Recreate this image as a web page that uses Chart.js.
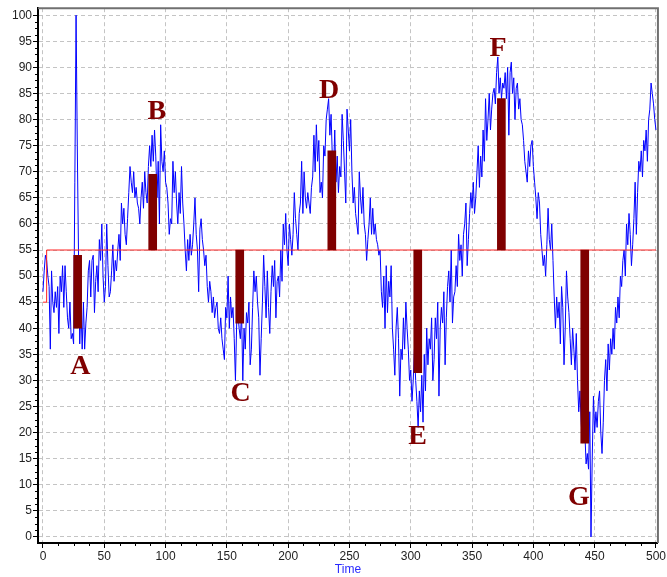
<!DOCTYPE html>
<html>
<head>
<meta charset="utf-8">
<script src="https://cdn.jsdelivr.net/npm/chart.js@4.4.1/dist/chart.umd.min.js"></script>
<style>
  html, body { margin: 0; padding: 0; background: #fff; }
</style>
</head>
<body>
<canvas id="myChart" width="667" height="577"></canvas>
<script>
// blue series, one value per time step (t = 0..500)
const signal = [
  47, 51, 54, 53, 50, 48, 36, 51, 45, 43,
  47, 44, 48, 39, 50, 47, 52, 44, 52, 47,
  42, 40, 45, 38, 39, 37, 68, 100, 75, 54,
  37, 44, 36, 45, 36, 41, 44, 51, 53, 46,
  53, 54, 43, 49, 52, 47, 57, 53, 60, 50,
  45, 48, 60, 52, 46, 47, 51, 56, 49, 53,
  51, 55, 58, 53, 64, 60, 63, 58, 56, 61,
  66, 71, 68, 66, 70, 65, 67, 64, 63, 60,
  65, 68, 63, 70, 66, 64, 71, 75, 71, 77,
  72, 78, 73, 65, 72, 60, 79, 72, 70, 74,
  68, 67, 64, 58, 61, 60, 72, 66, 70, 64,
  60, 66, 62, 71, 64, 60, 55, 51, 57, 53,
  58, 54, 56, 60, 65, 58, 55, 47, 59, 61,
  57, 55, 52, 54, 48, 45, 49, 47, 43, 46,
  42, 44, 45, 40, 39, 42, 38, 36, 34, 44,
  42, 50, 40, 46, 42, 44, 38, 30, 41, 43,
  40, 38, 43, 30, 40, 36, 43, 41, 45, 33,
  36, 44, 51, 47, 50, 45, 42, 31, 38, 45,
  54, 48, 42, 51, 44, 39, 47, 52, 48, 53,
  42, 49, 50, 46, 55, 49, 60, 56, 62, 55,
  52, 60, 57, 54, 58, 66, 61, 58, 55, 62,
  64, 72, 62, 70, 65, 63, 66, 64, 62, 67,
  69, 77, 70, 79, 72, 76, 66, 68, 65, 75,
  73, 80, 82, 84, 77, 81, 73, 70, 78, 68,
  73, 66, 71, 69, 81, 76, 70, 64, 82, 78,
  74, 80, 70, 64, 67, 62, 60, 58, 70, 65,
  62, 67, 60, 58, 53, 57, 60, 65, 58, 63,
  58, 60, 57, 56, 54, 55, 47, 44, 50, 40,
  52, 43, 49, 46, 52, 40, 36, 31, 40, 44,
  38, 27, 36, 34, 42, 36, 45, 40, 36, 30,
  32, 26, 30, 36, 30, 26, 21, 28, 24, 31,
  22, 35, 28, 40, 33, 38, 36, 42, 30, 34,
  42, 38, 45, 27, 40, 44, 41, 47, 33, 42,
  48, 51, 45, 55, 41, 46, 47, 52, 48, 58,
  53, 56, 50, 58, 60, 64, 52, 57, 62, 66,
  63, 68, 62, 65, 70, 75, 67, 73, 69, 78,
  72, 84, 76, 80, 85, 78, 82, 85, 86, 83,
  89, 92, 85, 88, 84, 87, 86, 89, 84, 90,
  77, 89, 91, 85, 88, 80, 86, 87, 82, 84,
  80, 79, 76, 72, 70, 68, 74, 71, 75, 76,
  71, 68, 65, 61, 66, 64, 58, 55, 52, 54,
  50, 56, 63, 57, 55, 60, 53, 46, 40, 46,
  42, 45, 37, 48, 44, 33, 40, 51, 46, 43,
  38, 33, 40, 36, 32, 39, 30, 24, 28, 22,
  18, 31, 20, 14, 16, 13, 24, 0, 15, 27,
  20, 24, 21, 26, 28, 20, 16, 22, 30, 34,
  28, 37, 32, 38, 35, 40, 36, 44, 41, 46,
  42, 50, 48, 53, 55, 50, 60, 56, 62, 58,
  52, 56, 61, 68, 58, 66, 72, 70, 74, 69,
  76, 74, 78, 72, 80, 82, 87, 85, 83, 80,
  78
];

// red threshold line
const levelX = [0, 3, 3, 500];
const levelY = [45, 45, 55, 55];

// marked bars
const markLabels = ['A', 'B', 'C', 'D', 'E', 'F', 'G'];
const markX = [28.3, 89.5, 160.5, 235.6, 305.7, 373.9, 441.9];
const markFrom = [54, 55, 55, 55, 55, 55, 55];
const markTo = [40, 69.5, 41, 74, 31.5, 84, 18];
// letter anchor (baseline) in data units
const letterX = [30.4, 92.8, 161.3, 233.4, 305.5, 371.1, 437.2];
const letterY = [31.3, 80.1, 26.1, 84.1, 17.8, 92.2, 6.1];

const MAROON = '#7f0000';

const letters = {
    id: 'letters',
    afterDatasetsDraw(chart) {
        const {ctx, scales: {x, y}} = chart;
        ctx.save();
        ctx.fillStyle = MAROON;
        ctx.font = 'bold 28px "Liberation Serif", "Times New Roman", serif';
        ctx.textAlign = 'center';
        ctx.textBaseline = 'alphabetic';
        markLabels.forEach((l, i) => {
            ctx.fillText(l, x.getPixelForValue(letterX[i]), y.getPixelForValue(letterY[i]));
        });
        ctx.restore();
    }
};

// frame on top/right plus minor ticks on both axes
const frame = {
    id: 'frame',
    afterDraw(chart) {
        const {ctx, chartArea: a, scales: {x, y}} = chart;
        ctx.save();
        ctx.strokeStyle = '#707070';
        ctx.lineWidth = 2;
        ctx.beginPath();
        ctx.moveTo(a.left, a.top);
        ctx.lineTo(a.right, a.top);
        ctx.lineTo(a.right, a.bottom);
        ctx.stroke();
        ctx.strokeStyle = '#000';
        ctx.lineWidth = 1;
        ctx.beginPath();
        for (let v = 0; v <= 500; v += 12.5) {
            if (v % 50 === 0) continue;
            const px = Math.round(x.getPixelForValue(v)) + 0.5;
            ctx.moveTo(px, a.bottom);
            ctx.lineTo(px, a.bottom + 3);
        }
        for (let v = 0; v <= 100; v += 1.25) {
            if (v % 5 === 0) continue;
            const py = Math.round(y.getPixelForValue(v)) + 0.5;
            ctx.moveTo(a.left, py);
            ctx.lineTo(a.left - 3, py);
        }
        ctx.stroke();
        ctx.restore();
    }
};

const tickFont = {family: '"Liberation Sans", Arial, sans-serif', size: 12};

const config = {
    type: 'line',
    data: {
        datasets: [
            {
                type: 'bar',
                data: markX.map((v, i) => ({x: v, y: [markFrom[i], markTo[i]]})),
                backgroundColor: MAROON,
                borderWidth: 0,
                barThickness: 8,
                order: 0
            },
            {
                data: levelX.map((v, i) => ({x: v, y: levelY[i]})),
                borderColor: '#ff2020',
                borderWidth: 1,
                pointRadius: 0,
                tension: 0,
                order: 1
            },
            {
                data: signal.map((v, i) => ({x: i, y: v})),
                borderColor: '#0000ff',
                borderWidth: 1,
                pointRadius: 0,
                tension: 0,
                order: 2
            }
        ]
    },
    options: {
        responsive: false,
        animation: false,
        events: [],
        layout: {padding: {top: 7, right: 5, left: 0, bottom: 0}},
        plugins: {
            legend: {display: false},
            tooltip: {enabled: false}
        },
        scales: {
            x: {
                type: 'linear',
                offset: false,
                min: -4.05,
                max: 501.6,
                afterFit: s => { s.height = 34; },
                ticks: {
                    stepSize: 50,
                    includeBounds: false,
                    autoSkip: false,
                    maxRotation: 0,
                    padding: 1,
                    color: '#222',
                    font: tickFont
                },
                grid: {
                    offset: false,
                    color: '#c4c4c4',
                    tickColor: '#000',
                    tickLength: 5
                },
                border: {display: true, color: '#000', width: 2, dash: [4, 3]},
                title: {
                    display: true,
                    text: 'Time',
                    color: '#2a2aff',
                    padding: {top: 0, bottom: 0},
                    font: {family: '"Liberation Sans", Arial, sans-serif', size: 12}
                }
            },
            y: {
                min: -1.15,
                max: 101.34,
                afterFit: s => { s.width = 38; },
                ticks: {
                    stepSize: 5,
                    includeBounds: false,
                    autoSkip: false,
                    padding: 1,
                    color: '#222',
                    font: tickFont
                },
                grid: {
                    color: '#c4c4c4',
                    tickColor: '#000',
                    tickLength: 5
                },
                border: {display: true, color: '#000', width: 2, dash: [4, 3]}
            }
        }
    },
    plugins: [letters, frame]
};

const myChart = new Chart(document.getElementById('myChart'), config);
</script>
</body>
</html>
